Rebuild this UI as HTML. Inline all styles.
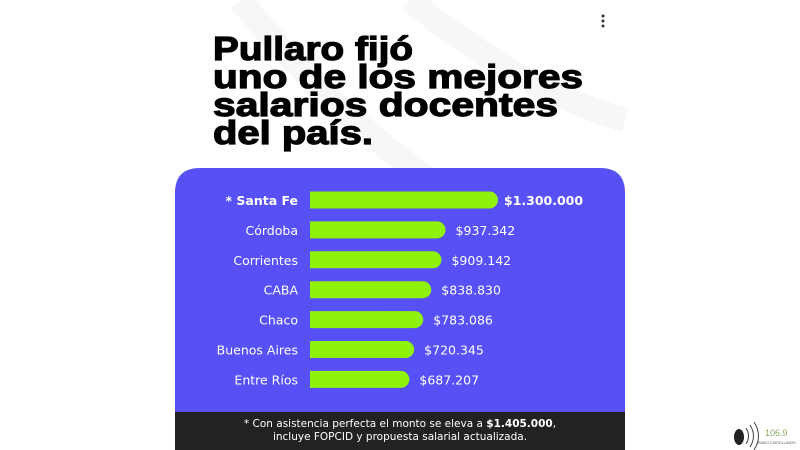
<!DOCTYPE html>
<html><head><meta charset="utf-8"><style>
html,body{margin:0;padding:0;background:#fff;width:800px;height:450px;overflow:hidden}
svg{display:block}
</style></head><body>
<svg id="chart" width="800" height="450" xmlns="http://www.w3.org/2000/svg">
  <rect x="0" y="0" width="800" height="450" fill="#fff"/>
  <g fill="none" stroke="#f7f7f7" stroke-width="24">
    <path d="M240 0 Q330 110 430 180"/>
    <path d="M410 0 Q520 90 625 120"/>
  </g>
  <g fill="#333">
    <circle cx="603" cy="16" r="1.5"/><circle cx="603" cy="21" r="1.5"/><circle cx="603" cy="26" r="1.5"/>
  </g>
  <g font-family="'Liberation Sans',sans-serif" font-weight="900" font-size="33" fill="#000" stroke="#000" stroke-width="1.2">
    <text x="213" y="60" textLength="200" lengthAdjust="spacingAndGlyphs">Pullaro fijó</text>
    <text x="213" y="88" textLength="370" lengthAdjust="spacingAndGlyphs">uno de los mejores</text>
    <text x="213" y="116" textLength="345" lengthAdjust="spacingAndGlyphs">salarios docentes</text>
    <text x="213" y="144" textLength="160" lengthAdjust="spacingAndGlyphs">del país.</text>
  </g>
  <path d="M175 412 V193 Q175 168 200 168 H600 Q625 168 625 193 V412 Z" fill="#5650f5"/>
  <g id="bars"></g>
  <rect x="175" y="412" width="450" height="38" fill="#222"/>
  <g font-family="'DejaVu Sans',sans-serif" font-size="10.5" fill="#fff" text-anchor="middle">
    <text x="400" y="427">* Con asistencia perfecta el monto se eleva a <tspan font-weight="bold">$1.405.000</tspan>,</text>
    <text x="400" y="440">incluye FOPCID y propuesta salarial actualizada.</text>
  </g>
  <g>
    <ellipse cx="739" cy="437" rx="5" ry="8" fill="#222"/>
    <path d="M746 428 q5 8 0 16 M750 425 q7 11 0 22 M754 422 q9 14 0 28" stroke="#444" fill="none" stroke-width="1"/>
    <text x="765" y="436" font-family="'Liberation Sans',sans-serif" font-size="9" fill="#8a6">106.9</text>
    <text x="758" y="444" font-family="'Liberation Sans',sans-serif" font-size="3.5" fill="#555">RADIO CASTELLANOS</text>
  </g>
</svg>
<script>
const categories = ["* Santa Fe","Córdoba","Corrientes","CABA","Chaco","Buenos Aires","Entre Ríos"];
const values = [1300000,937342,909142,838830,783086,720345,687207];
const valueLabels = ["$1.300.000","$937.342","$909.142","$838.830","$783.086","$720.345","$687.207"];

const NS = "http://www.w3.org/2000/svg";
const g = document.getElementById("bars");
const x0 = 310, maxW = 188, maxV = 1300000;
const xScale = v => v / maxV * maxW;
const yScale = i => 200 + i * 29.9;
const h = 17, r = 8.5;
categories.forEach((c, i) => {
  const w = xScale(values[i]);
  const yc = yScale(i);
  const bar = document.createElementNS(NS, "path");
  bar.setAttribute("d", `M${x0} ${yc-h/2} H${x0+w-r} A${r} ${r} 0 0 1 ${x0+w-r} ${yc+h/2} H${x0} Z`);
  bar.setAttribute("fill", "#8ef20a");
  
  
  g.appendChild(bar);
  const lab = document.createElementNS(NS, "text");
  lab.setAttribute("x", 298);
  lab.setAttribute("y", yc + 5);
  lab.setAttribute("text-anchor", "end");
  lab.setAttribute("font-family", "'DejaVu Sans',sans-serif");
  lab.setAttribute("font-size", "12.5");
  lab.setAttribute("fill", "#fff");
  if (i === 0) lab.setAttribute("font-weight", "bold");
  lab.textContent = c;
  
  
  g.appendChild(lab);
  const val = document.createElementNS(NS, "text");
  val.setAttribute("x", x0 + w + (i === 0 ? 6 : 10));
  val.setAttribute("y", yc + 5);
  val.setAttribute("font-family", "'DejaVu Sans',sans-serif");
  val.setAttribute("font-size", "12.5");
  val.setAttribute("fill", "#fff");
  if (i === 0) val.setAttribute("font-weight", "bold");
  val.textContent = valueLabels[i];
  
  
  g.appendChild(val);
});
</script>
</body></html>
